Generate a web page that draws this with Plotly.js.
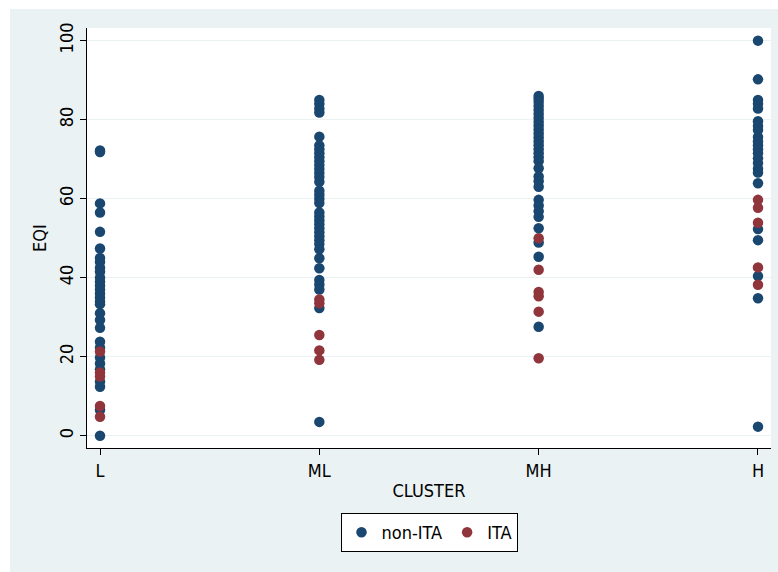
<!DOCTYPE html>
<html>
<head>
<meta charset="utf-8">
<script src="https://cdn.plot.ly/plotly-3.0.1.min.js"></script>
<style>
  html, body { margin: 0; padding: 0; background: #ffffff; }
  #chart { position: absolute; left: 10px; top: 9px; width: 768px; height: 563px; }
</style>
</head>
<body>
<div id="chart"></div>
<script>
// Categories (x axis)
const categories = ['L', 'ML', 'MH', 'H'];

// EQI values, non-ITA regions, by cluster
const nonITA_L  = [72.2, 71.8, 58.8, 56.5, 51.6, 47.4, 45.0, 44.0, 42.5, 41.5, 40.0, 39.0, 38.0, 37.0, 36.0, 35.0, 34.0, 33.3,
                   31.0, 29.3, 27.3, 23.8, 22.3, 19.8, 18.3, 16.8, 13.7, 12.4, 6.5, 0.0];
const nonITA_ML = [85.0, 84.0, 82.8, 81.8, 75.7, 73.5, 72.5, 71.5, 70.5, 69.5, 68.5, 67.5, 66.5, 65.5, 64.3,
                   62.0, 61.0, 60.0, 58.9, 56.5, 55.5, 54.5, 53.5, 52.5, 51.5, 50.5, 49.5, 48.5, 47.2,
                   44.9, 42.4, 39.4, 38.3, 37.0, 32.3, 3.5];
const nonITA_MH = [86.0, 85.3, 84.5, 83.5, 82.5, 81.5, 80.5, 79.5, 78.5, 77.5, 76.5, 75.5, 74.5, 73.5, 72.5,
                   71.5, 70.5, 69.5, 67.7, 65.6, 64.4, 63.0, 59.7, 58.3, 56.8, 55.4, 52.5, 48.9, 45.3, 27.6];
const nonITA_H  = [100.0, 90.2, 85.0, 84.0, 82.8, 79.6, 78.4, 77.4, 75.6, 74.5, 73.5, 72.5, 71.5, 70.2, 69.0,
                   67.6, 66.6, 63.9, 52.3, 49.5, 40.4, 34.8, 2.3];

// EQI values, ITA regions, by cluster
const ITA_L  = [21.3, 16.0, 15.0, 7.5, 4.8];
const ITA_ML = [34.5, 33.5, 25.5, 21.6, 19.2];
const ITA_MH = [50.0, 42.0, 36.4, 35.3, 31.4, 19.6];
const ITA_H  = [59.7, 57.7, 53.9, 42.6, 38.2];

const seriesNames = ['non-ITA', 'ITA'];

function buildXY(groups) {
  const x = [], y = [];
  groups.forEach((vals, i) => vals.forEach(v => { x.push(categories[i]); y.push(v); }));
  return {x, y};
}

const nonITA = buildXY([nonITA_L, nonITA_ML, nonITA_MH, nonITA_H]);
const ITA = buildXY([ITA_L, ITA_ML, ITA_MH, ITA_H]);

const fontFam = '"Liberation Sans Narrow", "DejaVu Sans Condensed", "Liberation Sans", Arial, sans-serif';

const traces = [
  { type: 'scatter', mode: 'markers', name: seriesNames[0], x: nonITA.x, y: nonITA.y,
    marker: { color: '#1a476f', size: 10.5, line: { width: 0 } } },
  { type: 'scatter', mode: 'markers', name: seriesNames[1], x: ITA.x, y: ITA.y,
    marker: { color: '#90353b', size: 10.5, line: { width: 0 } } }
];

const layout = {
  width: 768, height: 563,
  paper_bgcolor: '#eaf2f3',
  plot_bgcolor: '#ffffff',
  margin: { l: 77, r: 7, t: 19, b: 124, pad: 0 },
  font: { family: fontFam, size: 17, color: '#000000' },
  showlegend: true,
  legend: {
    orientation: 'h', x: 0.5, xanchor: 'center', y: -0.155, yanchor: 'top',
    bordercolor: '#000000', borderwidth: 1, bgcolor: '#ffffff',
    font: { family: fontFam, size: 18, color: '#000000' },
    itemwidth: 30, tracegroupgap: 0
  },
  xaxis: {
    type: 'category', categoryorder: 'array', categoryarray: categories,
    range: [-0.0593, 3.0593],
    showgrid: false, zeroline: false,
    showline: true, linecolor: '#000000', linewidth: 1,
    ticks: 'outside', ticklen: 6, tickcolor: '#000000',
    tickfont: { family: fontFam, size: 18 },
    title: { text: 'CLUSTER', font: { family: fontFam, size: 18 }, standoff: 4 }
  },
  yaxis: {
    range: [-3.11, 103.2],
    tickvals: [0, 20, 40, 60, 80, 100],
    showgrid: true, gridcolor: '#eaf2f3', gridwidth: 1,
    zeroline: false,
    showline: true, linecolor: '#000000', linewidth: 1,
    ticks: 'outside', ticklen: 6, tickcolor: '#000000',
    tickangle: -90,
    tickfont: { family: fontFam, size: 18 },
    title: { text: 'EQI', font: { family: fontFam, size: 18 }, standoff: 4 }
  }
};

Plotly.newPlot('chart', traces, layout, { displayModeBar: false, staticPlot: true });
</script>
</body>
</html>
